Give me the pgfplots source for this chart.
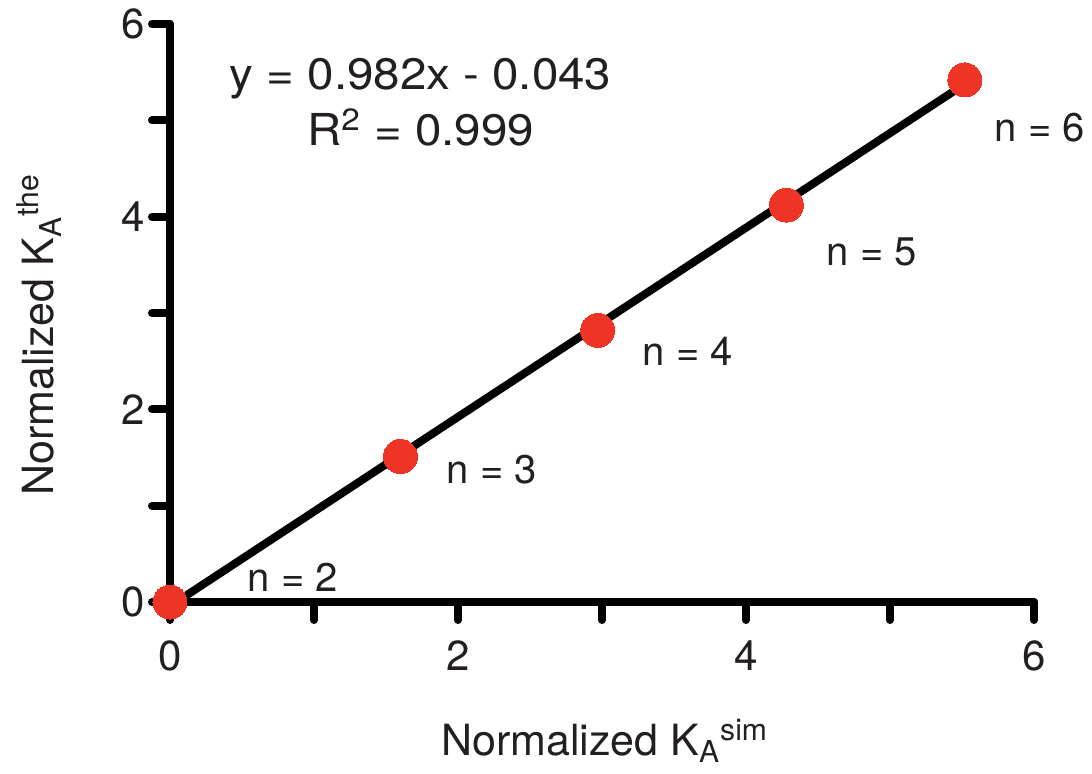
\documentclass[border=0pt]{standalone}
\usepackage{fontspec}
\setmainfont{TeX Gyre Heros}
\usepackage{graphicx}
\usepackage{pgfplots}
\pgfplotsset{compat=1.18}
\definecolor{dotred}{RGB}{238,52,36}
\definecolor{txt}{RGB}{35,31,32}
\begin{document}
\begin{tikzpicture}
\useasboundingbox (-85pt,-85.5pt) rectangle (461pt,301pt);
\begin{axis}[
  at={(0,0)}, anchor=origin,
  scale only axis, width=432pt, height=289pt,
  xmin=0, xmax=6, ymin=0, ymax=6,
  axis lines=left,
  axis line style={line width=4pt, line cap=round, -},
  xtick={0,...,6}, ytick={0,...,6},
  xticklabels={0,,2,,4,,6}, yticklabels={0,,2,,4,,6},
  tick align=outside,
  major tick length=9pt,
  tick style={line width=4pt, line cap=round, black},
  ticklabel style={font=\fontsize{21}{25}\selectfont, text=txt},
  /pgf/number format/assume math mode=true,
  xticklabel style={yshift=-7pt},
  clip=false,
  xlabel={Normalized K\textsubscript{A}\textsuperscript{sim}},
  ylabel={Normalized K\textsubscript{A}\textsuperscript{the}},
  label style={font=\fontsize{21.5}{26}\selectfont, text=txt},
  xlabel style={at={(axis description cs:0.503,-0.265)}, anchor=base},
  ylabel style={at={(axis description cs:-0.135,0.462)}, anchor=base, rotate=0},
]
\addplot[only marks, color=dotred, mark=*, mark size=8.5pt, mark options={draw=dotred, fill=dotred, line width=0pt}]
  coordinates {(0,0) (1.60,1.51) (2.97,2.82) (4.28,4.12) (5.52,5.42)};
\addplot[line width=4pt, black, line cap=butt]
  coordinates {(0.05,0.006) (5.52,5.378)};
\node[font=\fontsize{20}{24}\selectfont, text=txt] at (axis cs:0.854,0.26) {n = 2};
\node[font=\fontsize{20}{24}\selectfont, text=txt] at (axis cs:2.236,1.37) {n = 3};
\node[font=\fontsize{20}{24}\selectfont, text=txt] at (axis cs:3.597,2.60) {n = 4};
\node[font=\fontsize{20}{24}\selectfont, text=txt] at (axis cs:4.875,3.63) {n = 5};
\node[font=\fontsize{20}{24}\selectfont, text=txt] at (axis cs:6.04,4.92) {n = 6};
\node[anchor=base, font=\fontsize{22}{26}\selectfont, text=txt] at (axis cs:1.74,5.317) {\scalebox{1.08}[1]{y = 0.982x - 0.043}};
\node[anchor=base, font=\fontsize{22}{26}\selectfont, text=txt] at (axis cs:1.74,4.735) {\scalebox{1.08}[1]{R\textsuperscript{2} = 0.999}};
\end{axis}
\end{tikzpicture}
\end{document}
